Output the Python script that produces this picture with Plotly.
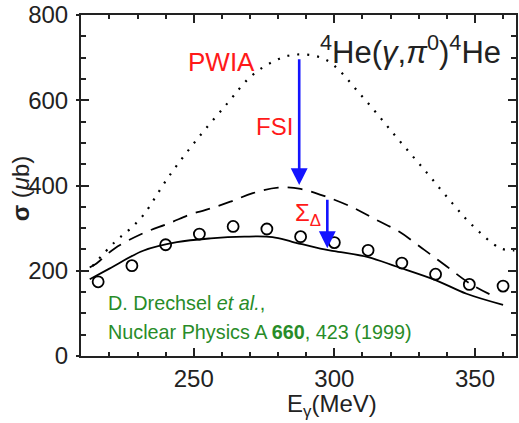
import plotly.graph_objects as go

# ---- data ----
energy_pts = [216, 228, 240, 252, 264, 276, 288, 300, 312, 324, 336, 348, 360]
sigma_pts = [174, 212, 261, 286, 304, 298, 280, 266, 248, 218, 192, 168, 164]

full_x = [213, 220, 232, 244, 256, 268, 278, 285, 295, 300, 312, 322, 336, 347, 360]
full_y = [180, 205, 247, 267, 276, 280, 279, 268, 252, 246, 232, 210, 178, 146, 120]

fsi_x = [213, 215, 222, 232, 241, 250, 254, 263, 271, 280, 288, 297, 307, 315, 323, 332, 340, 348, 357]
fsi_y = [208, 215, 253, 288, 311, 335, 342, 362, 382, 395, 392, 374, 347, 319, 292, 249, 210, 171, 139]

pwia_x = [214, 222, 227, 232, 241, 251, 262, 270, 278, 286, 297, 310, 322, 333, 342, 349, 359, 364]
pwia_y = [211, 268, 296, 330, 420, 507, 593, 654, 690, 707, 695, 608, 514, 429, 358, 307, 253, 248]

x_range = [209.9, 364.6]
y_range = [0, 800]
x_ticks = [250, 300, 350]
y_ticks = [0, 200, 400, 600, 800]

# arrows: (x, y_start, y_end)
arrow_fsi = [287.5, 700, 401]
arrow_sigma = [297.5, 370, 253]

RED = "rgb(255,25,25)"
BLUE = "rgb(20,20,255)"
GREEN = "rgb(40,140,40)"
FONT = "Liberation Sans, Arial, sans-serif"

fig = go.Figure()
fig.add_trace(go.Scatter(x=pwia_x, y=pwia_y, mode="lines", line_shape="spline",
                         line=dict(color="black", width=2.2, dash="2px,8px"), showlegend=False))
fig.add_trace(go.Scatter(x=fsi_x, y=fsi_y, mode="lines", line_shape="spline",
                         line=dict(color="black", width=1.8, dash="15px,9px"), showlegend=False))
fig.add_trace(go.Scatter(x=full_x, y=full_y, mode="lines", line_shape="spline",
                         line=dict(color="black", width=1.8), showlegend=False))
fig.add_trace(go.Scatter(x=energy_pts, y=sigma_pts, mode="markers",
                         marker=dict(symbol="circle-open", size=11, color="black",
                                     line=dict(width=1.8, color="black")),
                         showlegend=False))

axis_common = dict(showline=True, linecolor="#222", linewidth=2, mirror="ticks",
                   ticks="inside", ticklen=8, tickwidth=1.5, tickcolor="#222",
                   showgrid=False, zeroline=False,
                   tickfont=dict(family=FONT, size=24, color="#222"))

fig.update_xaxes(range=x_range, tickvals=x_ticks,
                 minor=dict(dtick=10, tick0=0, ticks="inside", ticklen=4, tickwidth=1.5, tickcolor="#222"),
                 ticklabelstandoff=0, **axis_common)
fig.update_yaxes(range=y_range, tickvals=y_ticks,
                 minor=dict(dtick=50, tick0=0, ticks="inside", ticklen=5, tickwidth=1.5, tickcolor="#222"),
                 ticklabelstandoff=6, **axis_common)

# outside stubs of the major y ticks (they cross the axis in the reference)
fig.update_layout(yaxis2=dict(overlaying="y", side="left", range=y_range, tickvals=y_ticks,
                              ticks="outside", ticklen=4, tickwidth=1.5, tickcolor="#222",
                              showticklabels=False, showline=False, showgrid=False, zeroline=False))
fig.add_trace(go.Scatter(x=[x_range[0]], y=[y_range[0]], yaxis="y2", mode="markers",
                         marker=dict(opacity=0), hoverinfo="skip", showlegend=False))

annotations = [
    dict(text="PWIA", x=(221.7 - 81) / 437, y=(356 - 61.7) / 341, font=dict(family=FONT, size=26, color=RED)),
    dict(text="FSI", x=(275 - 81) / 437, y=(356 - 126.7) / 341, font=dict(family=FONT, size=24, color=RED)),
    dict(text="Σ<sub>Δ</sub>", x=(309 - 81) / 437, y=(356 - 215) / 341, font=dict(family=FONT, size=24, color=RED)),
    dict(text="<sup>4</sup>He(<i>γ</i>,<i>π</i><sup>0</sup>)<sup>4</sup>He", x=(412 - 81) / 437, y=(356 - 50) / 341,
         font=dict(family=FONT, size=31, color="#222")),
    dict(text="D. Drechsel <i>et al.</i>,", x=(106 - 81) / 437, y=(356 - 303) / 341, xanchor="left",
         font=dict(family=FONT, size=19.8, color=GREEN)),
    dict(text="Nuclear Physics A <b>660</b>, 423 (1999)", x=(106 - 81) / 437, y=(356 - 331.7) / 341, xanchor="left",
         font=dict(family=FONT, size=19.8, color=GREEN)),
    dict(text="E<sub>γ</sub>(MeV)", x=(333 - 81) / 437, y=(356 - 405) / 341,
         font=dict(family=FONT, size=24, color="#222")),
    dict(text="<b>σ</b> (<i>μ</i>b)", x=(20 - 81) / 437, y=(356 - 188) / 341, textangle=-90,
         font=dict(family=FONT, size=24, color="#222")),
]
for a in annotations:
    a.setdefault("xanchor", "center")
    fig.add_annotation(xref="paper", yref="paper", showarrow=False, yanchor="middle", **a)

for ax_x, y0, y1 in [arrow_fsi, arrow_sigma]:
    fig.add_annotation(x=ax_x, y=y1, ax=ax_x, ay=y0, xref="x", yref="y", axref="x", ayref="y",
                       showarrow=True, arrowhead=2, arrowsize=1.3, arrowwidth=2.6, arrowcolor=BLUE, text="")

fig.update_layout(width=519, height=423, margin=dict(l=81, r=1, t=15, b=67),
                  plot_bgcolor="white", paper_bgcolor="white", showlegend=False)

# remove the page's default body margin so the figure fills the window
fig.write_html("out.html", config={"displayModeBar": False},
               post_script="document.body.style.margin='0';document.body.style.overflow='hidden';")
